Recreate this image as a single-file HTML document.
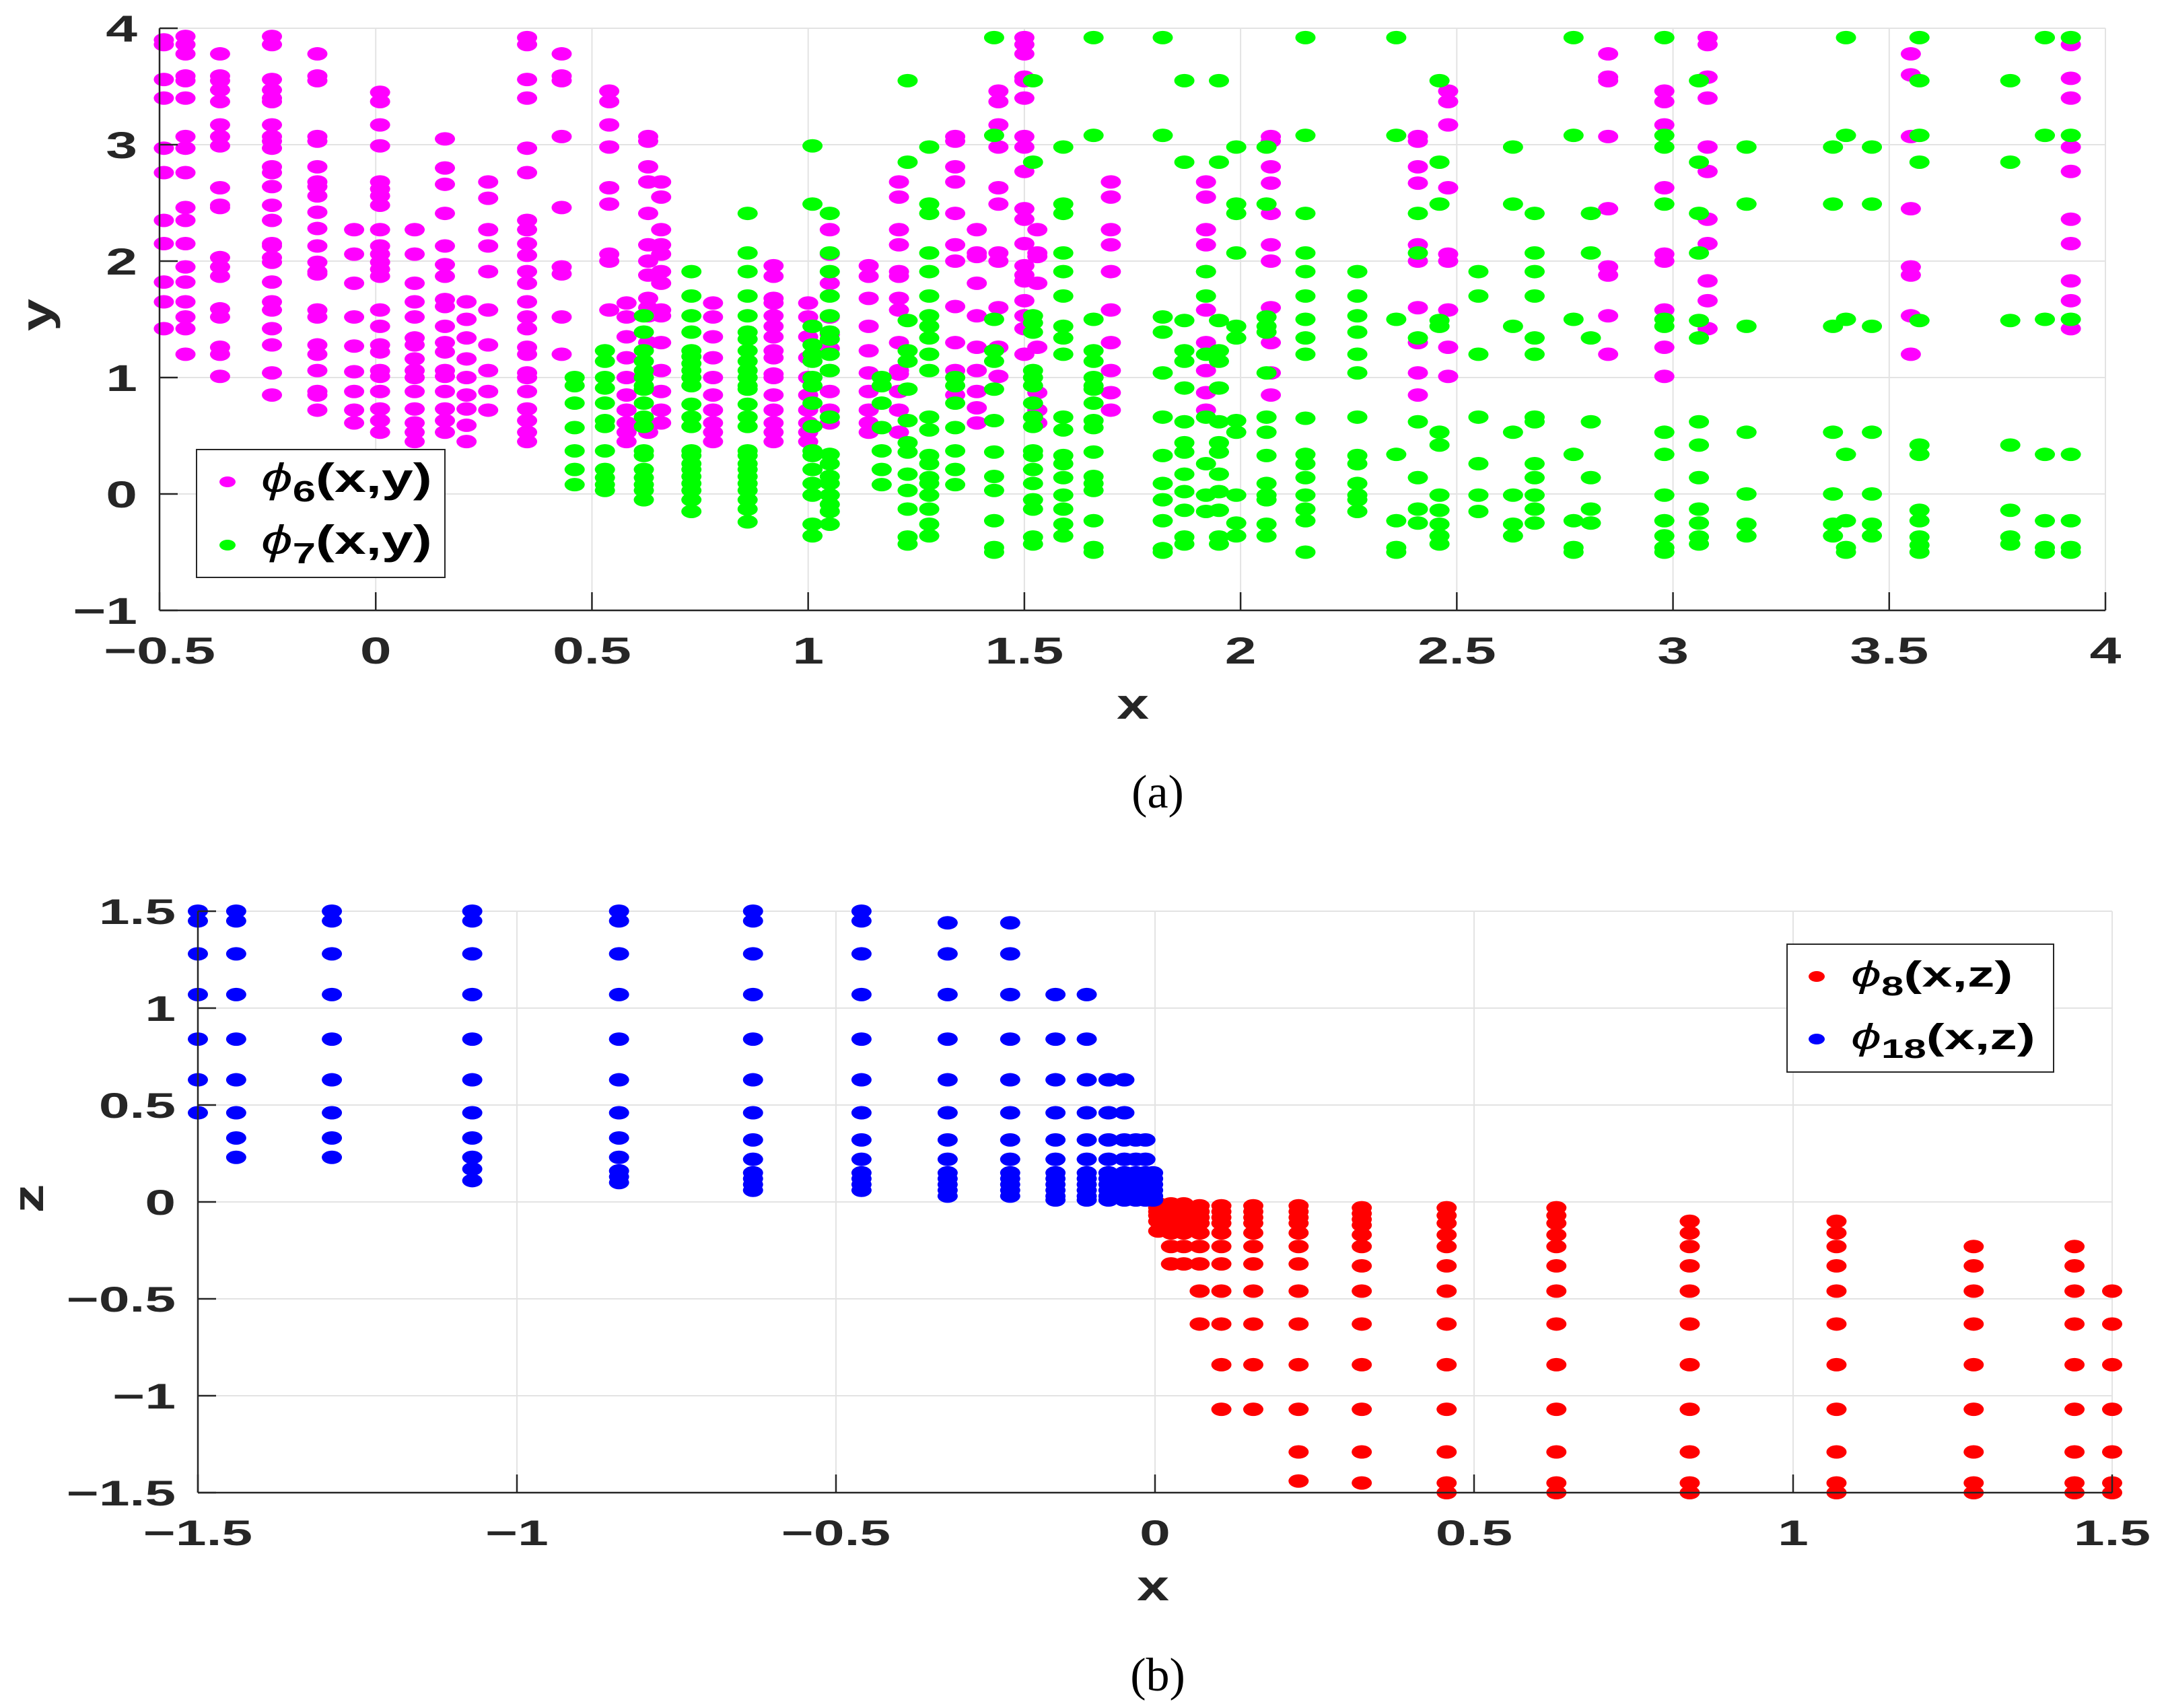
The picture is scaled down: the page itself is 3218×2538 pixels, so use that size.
<!DOCTYPE html>
<html><head><meta charset="utf-8"><style>
html,body{margin:0;padding:0;background:#fff}
svg{display:block}
text{font-family:"Liberation Sans",sans-serif;font-weight:bold;fill:#262626}
</style></head><body>
<svg id="fig" width="3218" height="2538" viewBox="0 0 3218 2538" xmlns="http://www.w3.org/2000/svg">
<g id="panelA"></g>
<g id="panelB"></g>
</svg>
<script>
// ---------- Panel (a) data ----------
const phi6X = [-0.49,-0.44,-0.36,-0.24,-0.135,-0.05,0.01,0.09,0.16,0.21,0.26,0.35,0.43,0.54,0.58,0.63,0.66,0.78,0.92,1.0,1.05,1.14,1.21,1.34,1.39,1.44,1.50,1.53,1.70,1.92,2.07,2.41,2.48,2.85,2.98,3.08,3.55,3.92];
const phi6Y = [
[3.9,3.86,3.56,3.40,2.97,2.76,2.35,2.15,1.82,1.65,1.42],
[3.93,3.86,3.78,3.59,3.55,3.40,3.07,2.97,2.76,2.46,2.35,2.15,1.95,1.82,1.65,1.52,1.42,1.20],
[3.78,3.59,3.55,3.47,3.37,3.17,3.07,2.99,2.63,2.48,2.46,2.03,1.95,1.87,1.59,1.52,1.26,1.20,1.01],
[3.93,3.86,3.56,3.47,3.40,3.37,3.17,3.07,3.03,2.97,2.81,2.76,2.64,2.48,2.35,2.15,2.13,2.03,1.99,1.82,1.65,1.58,1.42,1.28,1.04,0.85],
[3.78,3.59,3.55,3.07,3.03,2.81,2.68,2.64,2.56,2.42,2.28,2.13,1.99,1.91,1.89,1.58,1.52,1.28,1.20,1.06,0.88,0.85,0.72],
[2.27,2.06,1.81,1.52,1.27,1.05,0.88,0.72,0.61],
[3.45,3.37,3.17,2.99,2.68,2.62,2.56,2.48,2.27,2.13,2.06,1.99,1.93,1.87,1.58,1.44,1.28,1.22,1.06,1.01,0.88,0.73,0.63,0.53],
[2.27,2.06,1.81,1.65,1.52,1.34,1.28,1.16,1.06,1.00,0.88,0.73,0.61,0.53,0.45],
[3.05,2.80,2.66,2.41,2.13,1.97,1.87,1.67,1.61,1.44,1.30,1.22,1.06,1.01,0.88,0.73,0.63,0.53],
[1.65,1.50,1.34,1.16,1.00,0.85,0.73,0.59,0.45],
[2.68,2.54,2.27,2.13,1.91,1.58,1.28,1.06,0.88,0.72],
[3.92,3.86,3.56,3.40,2.97,2.76,2.35,2.27,2.15,2.05,1.91,1.81,1.65,1.52,1.42,1.26,1.20,1.04,1.00,0.88,0.73,0.63,0.53,0.45],
[3.78,3.59,3.55,3.07,2.46,1.95,1.89,1.52,1.20],
[3.46,3.37,3.17,2.98,2.63,2.49,2.06,2.0,1.58],
[1.64,1.52,1.35,1.17,1.0,0.85,0.72,0.61,0.53,0.45],
[3.07,3.03,2.81,2.68,2.41,2.14,2.0,1.88,1.68,1.60,1.53,1.30,0.53],
[2.68,2.55,2.27,2.14,2.06,1.91,1.81,1.58,1.53,1.30,1.06,0.88,0.72,0.61],
[1.64,1.52,1.35,1.17,1.0,0.85,0.72,0.61,0.53,0.45],
[1.96,1.87,1.68,1.64,1.53,1.44,1.35,1.23,1.17,1.03,1.0,0.85,0.72,0.61,0.53,0.45],
[1.64,1.52,1.35,1.17,1.0,0.85,0.72,0.61,0.53,0.45],
[2.27,2.06,1.81,1.52,1.37,1.25,1.06,0.88,0.72,0.61],
[1.96,1.87,1.68,1.44,1.23,1.04,0.88,0.72,0.61,0.53],
[2.68,2.55,2.27,2.14,1.91,1.87,1.68,1.58,1.30,1.06,1.03,0.88,0.72,0.53],
[3.07,3.03,2.81,2.68,2.41,2.14,2.0,1.61,1.30,1.06,0.85],
[2.27,2.07,2.04,1.81,1.53,1.26,1.06,0.88,0.74,0.61],
[3.46,3.37,3.17,2.98,2.63,2.49,2.07,2.0,1.60,1.26,1.01],
[3.92,3.86,3.78,3.58,3.55,3.40,3.07,2.98,2.77,2.45,2.36,2.15,1.96,1.88,1.83,1.66,1.53,1.42,1.20],
[2.27,2.07,2.04,1.81,1.26,0.87,0.72,0.61],
[2.68,2.55,2.27,2.14,1.91,1.58,1.30,1.06,0.87,0.72],
[2.68,2.55,2.27,2.14,1.91,1.58,1.30,1.06,0.87,0.72],
[3.07,3.03,2.81,2.67,2.41,2.14,2.0,1.60,1.30,1.04,0.85],
[3.07,3.03,2.81,2.67,2.14,2.0,1.60,1.30,1.04,0.85],
[3.46,3.37,3.17,2.63,2.06,2.0,1.58,1.26,1.01],
[3.78,3.58,3.55,3.07,2.45,1.95,1.88,1.53,1.20],
[3.46,3.37,3.17,2.63,2.06,2.0,1.58,1.26,1.01],
[3.92,3.86,3.58,3.40,2.98,2.77,2.36,2.15,1.83,1.66,1.42],
[3.78,3.60,3.07,2.45,1.95,1.88,1.53,1.20],
[3.86,3.57,3.40,2.98,2.77,2.36,2.15,1.83,1.66,1.42]
];
const phi7X = [0.46,0.53,0.62,0.73,0.86,1.01,1.05,1.17,1.23,1.28,1.34,1.43,1.52,1.59,1.66,1.82,1.87,1.92,1.95,1.99,2.06,2.15,2.27,2.36,2.41,2.46,2.55,2.63,2.68,2.77,2.81,2.98,3.06,3.17,3.37,3.40,3.46,3.57,3.78,3.86,3.92];
const phi7Y = [
[1.0,0.93,0.78,0.57,0.37,0.21,0.08],
[1.23,1.14,1.0,0.91,0.78,0.63,0.58,0.37,0.21,0.14,0.08,0.03],
[1.53,1.39,1.23,1.14,1.06,1.0,0.93,0.90,0.78,0.66,0.58,0.37,0.33,0.21,0.14,0.08,0.03,-0.05],
[1.91,1.70,1.53,1.39,1.23,1.18,1.12,1.06,1.0,0.93,0.77,0.66,0.58,0.37,0.33,0.26,0.21,0.15,0.09,0.03,-0.05,-0.15],
[2.41,2.07,1.91,1.70,1.53,1.39,1.33,1.23,1.14,1.06,1.0,0.93,0.90,0.77,0.66,0.58,0.37,0.33,0.26,0.21,0.15,0.09,0.03,-0.05,-0.13,-0.24],
[2.99,2.49,1.44,1.28,1.20,1.14,1.0,0.93,0.78,0.58,0.37,0.33,0.21,0.09,-0.01,-0.26,-0.36],
[2.41,2.07,1.91,1.70,1.53,1.39,1.33,1.20,1.06,0.66,0.34,0.26,0.15,0.09,-0.01,-0.09,-0.15,-0.26],
[1.0,0.93,0.78,0.57,0.37,0.21,0.08],
[3.55,2.85,1.49,1.23,1.14,0.90,0.63,0.44,0.36,0.17,0.03,-0.13,-0.37,-0.43],
[2.98,2.49,2.41,2.07,1.91,1.70,1.53,1.44,1.34,1.20,1.06,0.66,0.55,0.33,0.26,0.14,0.09,-0.01,-0.13,-0.26,-0.36],
[1.0,0.93,0.78,0.57,0.37,0.21,0.08],
[3.92,3.08,1.50,1.23,1.14,0.90,0.63,0.36,0.15,0.03,-0.23,-0.46,-0.50],
[3.55,2.85,1.53,1.47,1.39,1.06,1.0,0.93,0.78,0.66,0.58,0.37,0.33,0.21,0.09,-0.05,-0.13,-0.37,-0.43],
[2.98,2.49,2.41,2.07,1.91,1.70,1.44,1.34,1.20,0.66,0.55,0.33,0.26,0.14,-0.01,-0.13,-0.26,-0.36],
[3.92,3.08,1.50,1.23,1.14,1.0,0.93,0.90,0.78,0.63,0.57,0.36,0.15,0.09,0.03,-0.23,-0.46,-0.50],
[3.92,3.08,1.52,1.39,1.04,0.66,0.33,0.09,-0.05,-0.23,-0.47,-0.50],
[3.55,2.85,1.49,1.23,1.14,0.91,0.62,0.44,0.36,0.17,0.02,-0.14,-0.37,-0.43],
[1.91,1.70,1.20,0.66,0.26,-0.01,-0.15],
[3.55,2.85,1.49,1.23,1.14,0.91,0.62,0.44,0.36,0.17,0.02,-0.14,-0.37,-0.43],
[2.98,2.49,2.41,2.07,1.44,1.34,0.63,0.53,-0.01,-0.25,-0.36],
[2.98,2.49,1.52,1.44,1.39,1.04,0.66,0.53,0.33,0.09,-0.01,-0.05,-0.26,-0.36],
[3.92,3.08,2.41,2.07,1.91,1.70,1.50,1.34,1.20,0.65,0.34,0.26,0.14,-0.01,-0.13,-0.23,-0.50],
[1.91,1.70,1.53,1.39,1.20,1.04,0.66,0.33,0.26,0.09,-0.01,-0.05,-0.15],
[3.92,3.08,1.50,0.34,-0.23,-0.46,-0.50],
[2.41,2.07,1.34,0.62,0.14,-0.13,-0.25],
[3.55,2.85,2.49,1.49,1.44,0.53,0.42,-0.01,-0.14,-0.26,-0.36,-0.43],
[1.91,1.70,1.20,0.66,0.26,-0.01,-0.15],
[2.98,2.49,1.44,0.53,-0.01,-0.26,-0.36],
[2.41,2.07,1.91,1.70,1.34,1.20,0.66,0.62,0.26,0.14,-0.01,-0.13,-0.25],
[3.92,3.08,1.50,0.34,-0.23,-0.46,-0.50],
[2.41,2.07,1.34,0.62,0.14,-0.13,-0.25],
[3.92,3.08,2.98,2.49,1.50,1.44,0.53,0.34,-0.01,-0.23,-0.36,-0.46,-0.50],
[3.55,2.85,2.41,2.07,1.49,1.34,0.62,0.42,0.14,-0.13,-0.25,-0.37,-0.43],
[2.98,2.49,1.44,0.53,0.0,-0.26,-0.36],
[2.98,2.49,1.44,0.53,0.0,-0.26,-0.36],
[3.92,3.08,1.50,0.34,-0.23,-0.46,-0.50],
[2.98,2.49,1.44,0.53,0.0,-0.26,-0.36],
[3.92,3.55,3.08,2.85,1.49,0.42,0.34,-0.14,-0.23,-0.37,-0.44,-0.50],
[3.55,2.85,1.49,0.42,-0.14,-0.37,-0.43],
[3.92,3.08,1.50,0.34,-0.23,-0.46,-0.50],
[3.92,3.08,1.50,0.34,-0.23,-0.46,-0.50]
];
const aXTicks = [-0.5,0,0.5,1,1.5,2,2.5,3,3.5,4];
const aXTickLabels = ["−0.5","0","0.5","1","1.5","2","2.5","3","3.5","4"];
const aYTicks = [-1,0,1,2,3,4];
const aYTickLabels = ["−1","0","1","2","3","4"];

// ---------- Panel (b) data ----------
const phi8X = [0.005,0.025,0.045,0.07,0.104,0.154,0.225,0.324,0.457,0.629,0.838,1.068,1.283,1.441,1.5];
const phi8Z = [
[-0.01,-0.03,-0.05,-0.07,-0.10,-0.15],
[-0.01,-0.03,-0.05,-0.07,-0.10,-0.13,-0.16,-0.23,-0.32],
[-0.01,-0.03,-0.05,-0.07,-0.10,-0.13,-0.16,-0.23,-0.32],
[-0.02,-0.05,-0.08,-0.11,-0.16,-0.23,-0.32,-0.46,-0.63],
[-0.02,-0.05,-0.08,-0.11,-0.16,-0.23,-0.32,-0.46,-0.63,-0.84,-1.07],
[-0.02,-0.05,-0.08,-0.11,-0.16,-0.23,-0.32,-0.46,-0.63,-0.84,-1.07],
[-0.02,-0.05,-0.08,-0.11,-0.16,-0.23,-0.32,-0.46,-0.63,-0.84,-1.07,-1.29,-1.44],
[-0.03,-0.06,-0.09,-0.12,-0.17,-0.23,-0.33,-0.46,-0.63,-0.84,-1.07,-1.29,-1.45],
[-0.03,-0.07,-0.11,-0.17,-0.23,-0.33,-0.46,-0.63,-0.84,-1.07,-1.29,-1.45,-1.5],
[-0.03,-0.07,-0.11,-0.17,-0.23,-0.33,-0.46,-0.63,-0.84,-1.07,-1.29,-1.45,-1.5],
[-0.10,-0.16,-0.23,-0.33,-0.46,-0.63,-0.84,-1.07,-1.29,-1.45,-1.5],
[-0.10,-0.16,-0.23,-0.33,-0.46,-0.63,-0.84,-1.07,-1.29,-1.45,-1.5],
[-0.23,-0.33,-0.46,-0.63,-0.84,-1.07,-1.29,-1.45,-1.5],
[-0.23,-0.33,-0.46,-0.63,-0.84,-1.07,-1.29,-1.45,-1.5],
[-0.46,-0.63,-0.84,-1.07,-1.29,-1.45,-1.5]
];
const phi18X = [-1.5,-1.44,-1.29,-1.07,-0.84,-0.63,-0.46,-0.325,-0.227,-0.156,-0.107,-0.073,-0.048,-0.03,-0.015,-0.003];
const phi18Z = [
[1.5,1.45,1.28,1.07,0.84,0.63,0.46],
[1.5,1.45,1.28,1.07,0.84,0.63,0.46,0.33,0.23],
[1.5,1.45,1.28,1.07,0.84,0.63,0.46,0.33,0.23],
[1.5,1.45,1.28,1.07,0.84,0.63,0.46,0.33,0.23,0.17,0.11],
[1.5,1.45,1.28,1.07,0.84,0.63,0.46,0.33,0.23,0.16,0.13,0.10],
[1.5,1.45,1.28,1.07,0.84,0.63,0.46,0.32,0.22,0.15,0.12,0.09,0.06],
[1.5,1.45,1.28,1.07,0.84,0.63,0.46,0.32,0.22,0.15,0.12,0.09,0.06],
[1.44,1.28,1.07,0.84,0.63,0.46,0.32,0.22,0.15,0.12,0.09,0.06,0.03],
[1.44,1.28,1.07,0.84,0.63,0.46,0.32,0.22,0.15,0.12,0.09,0.06,0.03],
[1.07,0.84,0.63,0.46,0.32,0.22,0.15,0.12,0.09,0.06,0.03,0.01],
[1.07,0.84,0.63,0.46,0.32,0.22,0.15,0.12,0.09,0.06,0.03,0.01],
[0.63,0.46,0.32,0.22,0.15,0.12,0.09,0.06,0.03,0.01],
[0.63,0.46,0.32,0.22,0.15,0.12,0.09,0.06,0.03,0.01],
[0.32,0.22,0.15,0.12,0.09,0.06,0.03,0.01],
[0.32,0.22,0.15,0.12,0.09,0.06,0.03,0.01],
[0.15,0.12,0.09,0.06,0.03,0.01]
];
const bXTicks = [-1.5,-1,-0.5,0,0.5,1,1.5];
const bXTickLabels = ["−1.5","−1","−0.5","0","0.5","1","1.5"];
const bYTicks = [-1.5,-1,-0.5,0,0.5,1,1.5];
const bYTickLabels = ["−1.5","−1","−0.5","0","0.5","1","1.5"];

const NS = "http://www.w3.org/2000/svg";
function mk(tag, attrs, parent){
  const e = document.createElementNS(NS, tag);
  for (const k in attrs) e.setAttribute(k, attrs[k]);
  parent.appendChild(e);
  return e;
}

function drawPanel(g, cfg){
  const sx = v => cfg.L + (v - cfg.x0) / (cfg.x1 - cfg.x0) * (cfg.R - cfg.L);
  const sy = v => cfg.B - (v - cfg.y0) / (cfg.y1 - cfg.y0) * (cfg.B - cfg.T);
  const grid = mk('g', {}, g);
  
  
  cfg.xt.forEach(v => { mk('line', {x1:sx(v), x2:sx(v), y1:cfg.T, y2:cfg.B, stroke:'#e3e3e3', 'stroke-width':2}, grid); });
  cfg.yt.forEach(v => { mk('line', {x1:cfg.L, x2:cfg.R, y1:sy(v), y2:sy(v), stroke:'#e3e3e3', 'stroke-width':2}, grid); });
  cfg.series.forEach(s => {
    const sg = mk('g', {fill:s.color}, g);
    
    
    s.xs.forEach((xv, i) => {
      s.ys[i].forEach(yv => {
        const m = mk('ellipse', {cx:sx(xv), cy:sy(yv), rx:15, ry:10}, sg);
        
        
      });
    });
  });
  const ax = mk('g', {stroke:'#262626', 'stroke-width':2.5}, g);
  
  
  mk('line', {x1:cfg.L, x2:cfg.L, y1:cfg.T, y2:cfg.B}, ax);
  mk('line', {x1:cfg.L, x2:cfg.R, y1:cfg.B, y2:cfg.B}, ax);
  cfg.xt.forEach(v => mk('line', {x1:sx(v), x2:sx(v), y1:cfg.B, y2:cfg.B-27}, ax));
  cfg.yt.forEach(v => mk('line', {x1:cfg.L, x2:cfg.L+27, y1:sy(v), y2:sy(v)}, ax));
  cfg.xt.forEach((v, i) => {
    const t = mk('text', {transform:`translate(${sx(v)},${cfg.xlabBase}) scale(${cfg.tsx},1)`, 'text-anchor':'middle', 'font-size':cfg.tfs}, g);
    t.textContent = cfg.xtl[i];
    
    
  });
  cfg.yt.forEach((v, i) => {
    const t = mk('text', {transform:`translate(${cfg.ylabRight},${sy(v)+cfg.tfs*0.36}) scale(${cfg.tsx},1)`, 'text-anchor':'end', 'font-size':cfg.tfs}, g);
    t.textContent = cfg.ytl[i];
    
    
  });
}

const gA = document.getElementById('panelA');
drawPanel(gA, {id:'a', L:237, R:3128, T:42, B:907, x0:-0.5, x1:4, y0:-1, y1:4,
  xt:aXTicks, xtl:aXTickLabels, yt:aYTicks, ytl:aYTickLabels,
  xlabBase:986, ylabRight:204, tfs:56, tsx:1.5,
  series:[{name:'phi6-series', color:'#ff00ff', xs:phi6X, ys:phi6Y},
          {name:'phi7-series', color:'#00ff00', xs:phi7X, ys:phi7Y}]});

const gB = document.getElementById('panelB');
drawPanel(gB, {id:'b', L:294, R:3138, T:1354, B:2218, x0:-1.5, x1:1.5, y0:-1.5, y1:1.5,
  xt:bXTicks, xtl:bXTickLabels, yt:bYTicks, ytl:bYTickLabels,
  xlabBase:2296, ylabRight:261, tfs:53, tsx:1.55,
  series:[{name:'phi8-series', color:'#ff0000', xs:phi8X, ys:phi8Z},
          {name:'phi18-series', color:'#0000ff', xs:phi18X, ys:phi18Z}]});
</script>
<svg style="position:absolute;left:0;top:0" width="3218" height="2538" viewBox="0 0 3218 2538" xmlns="http://www.w3.org/2000/svg">
  <text transform="translate(1683,1068) scale(1.35,1)" text-anchor="middle" font-size="64">x</text>
  <text transform="translate(76,468) rotate(-90) scale(1.35,1)" text-anchor="middle" font-size="64">y</text>
  <text transform="translate(1713,2378) scale(1.35,1)" text-anchor="middle" font-size="64">x</text>
  <text transform="translate(64,1781) rotate(-90) scale(1.35,1)" text-anchor="middle" font-size="64">z</text>
  <text x="1720" y="1200" text-anchor="middle" font-size="70" style="font-family:'Liberation Serif',serif;font-weight:normal;fill:#000">(a)</text>
  <text x="1720" y="2512" text-anchor="middle" font-size="70" style="font-family:'Liberation Serif',serif;font-weight:normal;fill:#000">(b)</text>
  <g>
    <rect x="292" y="668" width="369" height="190" fill="#fff" stroke="#262626" stroke-width="2"/>
    <ellipse cx="338" cy="716" rx="12" ry="8" fill="#ff00ff"/>
    <ellipse cx="338" cy="810" rx="12" ry="8" fill="#00ff00"/>
    <text transform="translate(388,731) scale(1.4,1)" font-size="60" style="fill:#000"><tspan font-style="italic" font-weight="normal">ϕ</tspan><tspan dy="14" font-size="44">6</tspan><tspan dy="-14">(x,y)</tspan></text>
    <text transform="translate(388,823) scale(1.4,1)" font-size="60" style="fill:#000"><tspan font-style="italic" font-weight="normal">ϕ</tspan><tspan dy="14" font-size="44">7</tspan><tspan dy="-14">(x,y)</tspan></text>
  </g>
  <g>
    <rect x="2655" y="1403" width="396" height="190" fill="#fff" stroke="#262626" stroke-width="2"/>
    <ellipse cx="2699" cy="1451" rx="12" ry="8" fill="#ff0000"/>
    <ellipse cx="2699" cy="1544" rx="12" ry="8" fill="#0000ff"/>
    <text transform="translate(2750,1466) scale(1.5,1)" font-size="54" style="fill:#000"><tspan font-style="italic" font-weight="normal">ϕ</tspan><tspan dy="13" font-size="40">8</tspan><tspan dy="-13">(x,z)</tspan></text>
    <text transform="translate(2750,1559) scale(1.5,1)" font-size="54" style="fill:#000"><tspan font-style="italic" font-weight="normal">ϕ</tspan><tspan dy="13" font-size="40">18</tspan><tspan dy="-13">(x,z)</tspan></text>
  </g>
</svg>
</body></html>
